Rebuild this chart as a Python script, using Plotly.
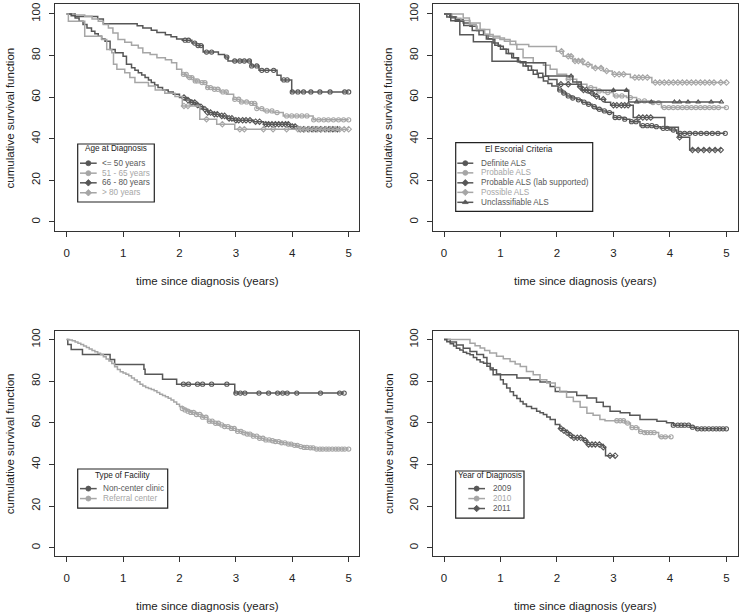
import plotly.graph_objects as go

DARK = "#575757"
LIGHT = "#a6a6a6"
AXC = "#333333"
FONT = "Liberation Sans, Arial, sans-serif"
MSIZE = 4.2

# ---------------- Panel 1: Age at Diagnosis ----------------
age_titles = ["<= 50 years", "51 - 65 years", "66 - 80 years", "> 80 years"]
age_le50_t = [0.15, 0.55, 0.65, 1.25, 1.35, 1.5, 1.6, 1.75, 1.85, 1.95, 2.05, 2.22, 2.3, 2.42, 2.69, 2.8, 2.86, 3.27, 3.41, 3.73, 3.8, 3.99]
age_le50_s = [98.8, 97.6, 95.3, 94.3, 93.3, 92.2, 91.1, 90.0, 89.0, 88.0, 87.4, 86.0, 84.8, 81.7, 80.5, 79.3, 77.4, 75.0, 72.9, 70.5, 68.3, 62.5]
age_le50_c = [2.1, 2.16, 2.27, 2.33, 2.38, 2.48, 2.57, 2.84, 2.98, 3.07, 3.15, 3.24, 3.28, 3.37, 3.46, 3.55, 3.67, 3.85, 3.91, 4.0, 4.1, 4.2, 4.33, 4.49, 4.67, 4.93, 5.0]

age_51_65_t = [0.12, 0.32, 0.45, 0.56, 0.65, 0.74, 0.82, 0.91, 1.03, 1.15, 1.27, 1.35, 1.48, 1.6, 1.75, 1.86, 1.95, 2.04, 2.13, 2.25, 2.36, 2.48, 2.6, 2.72, 2.84, 2.96, 3.07, 3.25, 3.37, 3.49, 3.66, 3.84, 4.37]
age_51_65_s = [99.5, 98.9, 97.6, 96.5, 95.0, 93.3, 90.9, 87.7, 86.4, 85.0, 83.7, 81.3, 80.5, 78.9, 78.0, 76.6, 73.4, 71.0, 69.4, 67.8, 67.0, 64.6, 63.8, 62.5, 61.4, 59.0, 57.7, 57.0, 54.5, 53.4, 52.6, 51.0, 49.1]
age_51_65_c = [2.07, 2.12, 2.18, 2.22, 2.28, 2.32, 2.4, 2.45, 2.5, 2.55, 2.62, 2.68, 2.77, 2.83, 2.98, 3.05, 3.1, 3.19, 3.28, 3.33, 3.37, 3.46, 3.55, 3.64, 3.73, 3.9, 3.99, 4.08, 4.17, 4.26, 4.38, 4.47, 4.56, 4.64, 4.73, 4.82, 4.91, 5.0]

age_66_80_t = [0.08, 0.15, 0.22, 0.29, 0.36, 0.44, 0.5, 0.56, 0.62, 0.68, 0.77, 0.86, 1.0, 1.06, 1.15, 1.21, 1.27, 1.33, 1.39, 1.45, 1.5, 1.56, 1.62, 1.7, 1.8, 1.89, 2.0, 2.1, 2.2, 2.28, 2.36, 2.42, 2.5, 2.6, 2.72, 2.84, 2.96, 3.31, 3.49, 3.96, 4.1]
age_66_80_s = [99.2, 98.1, 96.5, 95.0, 93.3, 91.7, 90.5, 89.3, 88.0, 86.9, 82.9, 81.3, 79.7, 75.8, 74.2, 73.0, 71.8, 70.6, 69.4, 68.2, 67.0, 65.8, 64.6, 63.5, 62.5, 61.4, 59.8, 58.6, 57.4, 56.2, 55.4, 54.2, 52.6, 51.8, 51.0, 49.8, 48.9, 48.2, 47.0, 45.9, 44.6]
age_66_80_c = [2.08, 2.15, 2.22, 2.27, 2.32, 2.38, 2.45, 2.5, 2.55, 2.62, 2.67, 2.75, 2.8, 2.88, 2.93, 3.0, 3.05, 3.12, 3.18, 3.25, 3.35, 3.42, 3.53, 3.58, 3.64, 3.7, 3.76, 3.82, 3.88, 3.93, 4.0, 4.05, 4.14, 4.2, 4.28, 4.35, 4.42, 4.5, 4.58, 4.65, 4.72, 4.8]

age_gt80_t = [0.03, 0.32, 0.62, 0.71, 0.8, 0.83, 0.89, 1.03, 1.12, 1.21, 1.45, 1.57, 1.74, 1.92, 2.05, 2.36, 2.66, 2.98]
age_gt80_s = [96.5, 89.3, 87.7, 82.9, 81.3, 75.8, 73.4, 71.8, 69.4, 67.0, 65.4, 63.5, 61.9, 60.3, 55.8, 49.4, 47.0, 44.6]
age_gt80_c = [2.08, 2.15, 2.48, 2.76, 3.07, 3.15, 3.49, 3.66, 3.9, 4.1, 4.15, 4.22, 4.3, 4.38, 4.45, 4.52, 4.6, 4.68, 4.76, 4.84, 4.92, 5.0]

# ---------------- Panel 2: El Escorial Criteria ----------------
esc_titles = ["Definite ALS", "Probable ALS", "Probable ALS (lab supported)", "Possible ALS", "Unclassifiable ALS"]
esc_def_t = [0.1, 0.22, 0.34, 0.46, 0.58, 0.7, 0.78, 0.87, 0.96, 1.05, 1.14, 1.23, 1.32, 1.4, 1.49, 1.58, 1.67, 1.76, 1.84, 1.91, 2.02, 2.1, 2.17, 2.26, 2.35, 2.44, 2.53, 2.62, 2.7, 2.8, 2.88, 3.0, 3.18, 3.29, 3.47, 3.71, 3.83, 4.0, 4.12]
esc_def_s = [98.6, 97.3, 95.7, 94.1, 92.1, 90.1, 88.1, 86.1, 84.5, 83.0, 81.0, 78.9, 77.0, 75.0, 73.0, 71.0, 69.4, 67.8, 66.6, 65.4, 63.5, 62.0, 60.6, 59.6, 58.7, 57.6, 56.6, 55.4, 54.2, 53.4, 52.6, 50.2, 49.4, 48.2, 46.3, 45.8, 45.0, 44.2, 42.6]
esc_def_c = [2.05, 2.12, 2.2, 2.28, 2.38, 2.48, 2.56, 2.66, 2.75, 2.84, 2.93, 3.03, 3.1, 3.2, 3.32, 3.4, 3.52, 3.6, 3.68, 3.76, 3.88, 3.95, 4.06, 4.18, 4.26, 4.35, 4.45, 4.55, 4.65, 4.75, 4.85, 4.98]

esc_prob_t = [0.14, 0.3, 0.46, 0.64, 0.81, 0.99, 1.17, 1.29, 1.4, 1.58, 1.76, 1.88, 2.0, 2.17, 2.35, 2.53, 2.7, 2.82, 3.0, 3.23, 3.41, 3.65, 3.85]
esc_prob_s = [98.0, 96.9, 95.7, 92.5, 89.3, 87.7, 85.3, 83.0, 78.9, 76.6, 75.3, 73.4, 71.0, 68.6, 66.2, 64.6, 63.0, 62.2, 60.6, 59.8, 58.2, 57.4, 55.0]
esc_prob_c = [2.2, 2.4, 2.6, 2.75, 2.9, 3.05, 3.15, 3.3, 3.45, 3.55, 3.7, 3.8, 3.9, 3.98, 4.06, 4.14, 4.22, 4.3, 4.38, 4.46, 4.54, 4.62, 4.7, 4.78, 4.86, 5.0]

esc_lab_t = [0.05, 0.2, 0.35, 0.5, 0.62, 0.75, 0.9, 1.0, 1.1, 1.2, 1.3, 1.45, 1.55, 1.65, 1.75, 1.85, 2.0, 2.38, 2.45, 2.55, 2.65, 2.75, 2.85, 2.95, 3.35, 3.91, 4.15, 4.35]
esc_lab_s = [98.5, 96.5, 94.5, 92.0, 90.0, 88.0, 85.0, 83.0, 81.0, 79.0, 77.0, 75.0, 73.0, 71.5, 70.0, 68.5, 66.2, 65.0, 63.5, 62.0, 60.5, 59.0, 57.5, 56.1, 50.2, 45.5, 40.7, 34.6]
esc_lab_c = [2.07, 2.2, 2.41, 2.47, 2.52, 2.62, 2.7, 2.82, 3.0, 3.06, 3.14, 3.2, 3.26, 3.45, 3.52, 3.59, 3.66, 4.17, 4.4, 4.5, 4.6, 4.7, 4.8, 4.9]

esc_poss_t = [0.34, 0.45, 0.57, 0.72, 0.87, 1.07, 1.27, 1.5, 1.99, 2.11, 2.28, 2.46, 2.62, 2.82, 2.98, 3.3, 3.68]
esc_poss_s = [98.1, 94.9, 92.5, 90.1, 88.5, 86.9, 85.3, 84.4, 82.1, 79.7, 77.4, 75.7, 74.0, 72.6, 71.0, 69.4, 67.0]
esc_poss_c = [2.08, 2.2, 2.25, 2.32, 2.38, 2.45, 2.55, 2.68, 2.78, 2.88, 3.02, 3.1, 3.18, 3.38, 3.45, 3.52, 3.6, 3.74, 3.82, 3.9, 3.98, 4.06, 4.14, 4.22, 4.3, 4.38, 4.46, 4.54, 4.62, 4.7, 4.78, 4.9, 5.0]

esc_uncl_t = [0.12, 0.28, 0.52, 0.85, 1.35, 1.8, 2.28, 2.43, 3.27]
esc_uncl_s = [96.7, 90.0, 86.7, 77.3, 76.6, 70.2, 67.3, 63.3, 57.7]
esc_uncl_c = [2.25, 3.0, 3.23, 3.41, 3.67, 4.08, 4.17, 4.32, 4.5, 4.73, 4.91]

# ---------------- Panel 3: Type of Facility ----------------
fac_titles = ["Non-center clinic", "Referral center"]
fac_non_t = [0.02, 0.08, 0.28, 0.77, 0.85, 1.37, 1.39, 1.7, 1.95, 2.98]
fac_non_s = [97.6, 95.2, 92.9, 90.5, 88.1, 85.7, 83.3, 81.0, 78.6, 74.3]
fac_non_c = [2.07, 2.16, 2.32, 2.41, 2.57, 2.84, 3.0, 3.08, 3.16, 3.41, 3.58, 3.74, 3.83, 3.91, 4.08, 4.5, 4.84, 4.92]

fac_ref_t = [0.05, 0.1, 0.15, 0.2, 0.25, 0.3, 0.35, 0.4, 0.45, 0.5, 0.55, 0.6, 0.65, 0.7, 0.75, 0.8, 0.85, 0.9, 0.95, 1.0, 1.05, 1.1, 1.15, 1.2, 1.25, 1.3, 1.35, 1.4, 1.45, 1.5, 1.55, 1.6, 1.65, 1.7, 1.75, 1.8, 1.85, 1.9, 1.95, 2.0, 2.05, 2.1, 2.15, 2.2, 2.3, 2.4, 2.5, 2.6, 2.7, 2.8, 2.9, 3.0, 3.1, 3.2, 3.3, 3.4, 3.5, 3.6, 3.7, 3.8, 3.9, 4.0, 4.1, 4.2, 4.3, 4.4]
fac_ref_s = [99.8, 99.4, 98.8, 98.2, 97.6, 96.9, 96.2, 95.5, 94.8, 94.2, 93.5, 92.8, 91.8, 90.7, 89.7, 88.5, 87.0, 85.6, 84.6, 84.0, 83.3, 82.6, 81.6, 80.6, 79.7, 78.6, 77.7, 77.0, 76.5, 76.0, 75.4, 74.6, 73.8, 73.1, 72.5, 71.8, 71.0, 70.0, 68.9, 67.8, 66.9, 66.2, 65.6, 65.0, 64.0, 62.7, 60.8, 59.8, 59.0, 58.2, 57.3, 55.9, 55.2, 54.6, 53.6, 52.6, 51.8, 51.4, 51.0, 50.4, 49.8, 49.2, 48.6, 48.2, 48.0, 47.4]
fac_ref_c = [2.05, 2.1, 2.15, 2.2, 2.25, 2.3, 2.36, 2.41, 2.47, 2.53, 2.58, 2.64, 2.69, 2.75, 2.8, 2.86, 2.92, 2.97, 3.03, 3.09, 3.14, 3.2, 3.25, 3.31, 3.37, 3.42, 3.48, 3.53, 3.59, 3.65, 3.7, 3.76, 3.81, 3.87, 3.93, 3.98, 4.04, 4.09, 4.15, 4.21, 4.26, 4.32, 4.37, 4.43, 4.49, 4.54, 4.6, 4.65, 4.71, 4.77, 4.82, 4.88, 4.93, 5.0]

# ---------------- Panel 4: Year of Diagnosis ----------------
year_titles = ["2009", "2010", "2011"]
y2009_t = [0.11, 0.22, 0.34, 0.46, 0.58, 0.7, 0.76, 0.82, 0.87, 1.29, 1.52, 1.7, 1.88, 1.97, 2.17, 2.35, 2.53, 2.7, 2.82, 2.94, 3.12, 3.29, 3.47, 3.77, 3.94, 4.06, 4.36, 4.47]
y2009_s = [98.8, 97.4, 95.8, 94.3, 92.8, 91.4, 88.5, 85.5, 83.1, 81.5, 80.7, 79.6, 77.5, 75.1, 74.8, 73.2, 71.9, 69.9, 67.9, 65.6, 64.8, 63.6, 61.6, 60.8, 60.0, 58.9, 57.9, 57.1]
y2009_c = [4.06, 4.14, 4.2, 4.26, 4.33, 4.4, 4.49, 4.56, 4.62, 4.69, 4.76, 4.82, 4.88, 4.94, 5.0]

y2010_t = [0.46, 0.55, 0.64, 0.72, 0.81, 0.93, 1.05, 1.17, 1.26, 1.35, 1.46, 1.58, 1.7, 1.82, 1.97, 2.05, 2.17, 2.29, 2.41, 2.53, 2.64, 2.76, 2.85, 3.2, 3.3, 3.45, 3.55, 3.8]
y2010_s = [98.2, 97.0, 96.0, 94.8, 93.6, 92.0, 90.8, 89.5, 88.3, 87.1, 84.7, 83.1, 80.7, 79.1, 77.0, 74.8, 72.3, 70.3, 67.5, 64.6, 63.6, 61.6, 61.0, 59.9, 57.7, 55.8, 55.3, 53.3]
y2010_c = [3.06, 3.12, 3.18, 3.25, 3.33, 3.4, 3.48, 3.55, 3.6, 3.66, 3.72, 3.85, 3.92, 4.02]

y2011_t = [0.05, 0.11, 0.17, 0.22, 0.28, 0.34, 0.4, 0.46, 0.52, 0.58, 0.64, 0.7, 0.76, 0.82, 0.87, 0.93, 1.0, 1.05, 1.11, 1.17, 1.23, 1.29, 1.35, 1.4, 1.46, 1.55, 1.64, 1.7, 1.76, 1.82, 1.88, 1.97, 2.05, 2.1, 2.17, 2.22, 2.26, 2.47, 2.53, 2.82, 2.86]
y2011_s = [99.0, 98.0, 96.9, 95.9, 95.0, 93.9, 93.3, 92.7, 91.4, 90.3, 89.2, 88.7, 87.2, 86.3, 85.5, 83.5, 80.7, 78.7, 76.7, 75.0, 73.2, 71.7, 70.3, 69.0, 67.9, 66.9, 65.6, 64.8, 64.0, 62.8, 61.6, 59.2, 57.3, 56.3, 55.2, 54.0, 52.8, 51.5, 49.6, 48.3, 44.2]
y2011_c = [2.07, 2.12, 2.18, 2.24, 2.3, 2.36, 2.42, 2.5, 2.56, 2.62, 2.68, 2.75, 2.82, 2.94, 3.03]

AX_TITLE_X = "time since diagnosis (years)"
AX_TITLE_Y = "cumulative survival function"


def surv_at(t, s, x):
    v = 100.0
    for ti, si in zip(t, s):
        if ti <= x:
            v = si
    return v


def marker(sym, col):
    return dict(symbol=sym, size=MSIZE, color=col, line=dict(width=1.1, color=col))


fig = go.Figure()

panels = [
    ("", [(age_le50_t, age_le50_s, age_le50_c, DARK, "circle-open"),
          (age_51_65_t, age_51_65_s, age_51_65_c, LIGHT, "circle-open"),
          (age_66_80_t, age_66_80_s, age_66_80_c, DARK, "diamond-open"),
          (age_gt80_t, age_gt80_s, age_gt80_c, LIGHT, "diamond-open")]),
    ("2", [(esc_def_t, esc_def_s, esc_def_c, DARK, "circle-open"),
           (esc_prob_t, esc_prob_s, esc_prob_c, LIGHT, "circle-open"),
           (esc_lab_t, esc_lab_s, esc_lab_c, DARK, "diamond-open"),
           (esc_poss_t, esc_poss_s, esc_poss_c, LIGHT, "diamond-open"),
           (esc_uncl_t, esc_uncl_s, esc_uncl_c, DARK, "triangle-up-open")]),
    ("3", [(fac_non_t, fac_non_s, fac_non_c, DARK, "circle-open"),
           (fac_ref_t, fac_ref_s, fac_ref_c, LIGHT, "circle-open")]),
    ("4", [(y2009_t, y2009_s, y2009_c, DARK, "circle-open"),
           (y2010_t, y2010_s, y2010_c, LIGHT, "circle-open"),
           (y2011_t, y2011_s, y2011_c, DARK, "diamond-open")]),
]

for suf, series in panels:
    xa, ya = "x" + suf, "y" + suf
    for t, s, c, col, sym in series:
        end = max(c[-1], t[-1])
        fig.add_trace(go.Scatter(x=[0] + t + [end], y=[100] + s + [s[-1]], mode="lines",
                                 line=dict(color=col, width=1.5, shape="hv"),
                                 xaxis=xa, yaxis=ya, showlegend=False, hoverinfo="skip"))
        fig.add_trace(go.Scatter(x=c, y=[surv_at(t, s, v) for v in c], mode="markers",
                                 marker=marker(sym, col),
                                 xaxis=xa, yaxis=ya, showlegend=False, hoverinfo="skip"))

# ---------------- Legends (drawn in pixel space on an overlay axis) ----------------
legends = [
    dict(box=(77.7, 141.7, 154.3, 200.0), title="Age at Diagnosis", tx=116.0, ty=146.7,
         rows=[161, 171, 180.7, 190.7], lx=(80, 96.7), textx=100,
         names=age_titles, cols=[DARK, LIGHT, DARK, LIGHT],
         syms=["circle", "circle", "diamond", "diamond"]),
    dict(box=(455.7, 140.3, 592.7, 209.3), title="El Escorial Criteria", tx=519.0, ty=147.7,
         rows=[161, 170.7, 180.7, 190.3, 200.3], lx=(457.3, 473.3), textx=479.3,
         names=esc_titles, cols=[DARK, LIGHT, DARK, LIGHT, DARK],
         syms=["circle", "circle", "diamond", "diamond", "triangle-up"]),
    dict(box=(77.7, 468.3, 167.7, 507.7), title="Type of Facility", tx=123.3, ty=475.3,
         rows=[488, 498], lx=(80, 96.7), textx=101,
         names=fac_titles, cols=[DARK, LIGHT], syms=["circle", "circle"]),
    dict(box=(455.7, 470.3, 524.0, 517.7), title="Year of Diagnosis", tx=489.5, ty=475.3,
         rows=[488, 498, 508], lx=(468.3, 485), textx=490.7,
         names=year_titles, cols=[DARK, LIGHT, DARK],
         syms=["circle", "circle", "diamond"]),
]

shapes = []
annotations = []
for lg in legends:
    x0, y0, x1, y1 = lg["box"]
    shapes.append(dict(type="rect", xref="x5", yref="y5", x0=x0, y0=y0, x1=x1, y1=y1,
                       line=dict(color="#222222", width=1.2), fillcolor="rgba(0,0,0,0)"))
    annotations.append(dict(xref="x5", yref="y5", x=lg["tx"], y=lg["ty"], text=lg["title"],
                            showarrow=False, xanchor="center", yanchor="middle",
                            font=dict(family=FONT, size=8.2, color="#222222")))
    for ry, nm, col, sym in zip(lg["rows"], lg["names"], lg["cols"], lg["syms"]):
        lx0, lx1 = lg["lx"]
        fig.add_trace(go.Scatter(x=[lx0, lx1], y=[ry, ry], mode="lines",
                                 line=dict(color=col, width=1.5), xaxis="x5", yaxis="y5",
                                 showlegend=False, hoverinfo="skip"))
        fig.add_trace(go.Scatter(x=[(lx0 + lx1) / 2], y=[ry], mode="markers",
                                 marker=dict(symbol=sym, size=5, color=col, line=dict(width=0.8, color=col)),
                                 xaxis="x5", yaxis="y5", showlegend=False, hoverinfo="skip"))
        annotations.append(dict(xref="x5", yref="y5", x=lg["textx"], y=ry, text=nm,
                                showarrow=False, xanchor="left", yanchor="middle",
                                font=dict(family=FONT, size=8.2, color=col)))

# ---------------- Axis titles ----------------
W, H = 740, 614
title_pos = [
    (207.7, 279, AX_TITLE_X, 0), (585.2, 279, AX_TITLE_X, 0),
    (207.7, 606, AX_TITLE_X, 0), (585.2, 606, AX_TITLE_X, 0),
    (9.5, 115.5, AX_TITLE_Y, -90), (388.3, 115.5, AX_TITLE_Y, -90),
    (9.5, 442.8, AX_TITLE_Y, -90), (388.3, 442.8, AX_TITLE_Y, -90),
]
for px, py, txt, ang in title_pos:
    annotations.append(dict(xref="x5", yref="y5", x=px, y=py, text=txt, showarrow=False,
                            xanchor="center", yanchor="middle", textangle=ang,
                            font=dict(family=FONT, size=11.5, color="#222222")))


def xax(dom, rng):
    return dict(domain=dom, range=rng, tickvals=[0, 1, 2, 3, 4, 5], ticks="outside", ticklen=5,
                tickcolor=AXC, showline=True, linecolor=AXC, linewidth=1, mirror=True,
                showgrid=False, zeroline=False, tickfont=dict(family=FONT, size=11.5, color="#222222"),
                ticklabelstandoff=6, fixedrange=True)


def yax(dom, rng):
    return dict(domain=dom, range=rng, tickvals=[0, 20, 40, 60, 80, 100], ticks="outside", ticklen=5,
                tickcolor=AXC, showline=True, linecolor=AXC, linewidth=1, mirror=True,
                showgrid=False, zeroline=False, tickangle=-90,
                tickfont=dict(family=FONT, size=11.5, color="#222222"), ticklabelstandoff=4,
                fixedrange=True)


xl = [55 / W, 359 / W]
xr = [432.7 / W, 737.7 / W]
yt = [1 - 229 / H, 1 - 1 / H]
yb = [1 - 555.7 / H, 1 - 329.7 / H]
rx_l = [-0.207, 5.183]
rx_r = [-0.2, 5.2]
ry_t = [-4.3, 104.8]
ry_b = [-4.0, 104.1]

fig.update_layout(
    width=W, height=H, margin=dict(l=0, r=0, t=0, b=0),
    paper_bgcolor="white", plot_bgcolor="rgba(0,0,0,0)", showlegend=False,
    font=dict(family=FONT),
    xaxis=dict(xax(xl, rx_l), anchor="y"), yaxis=dict(yax(yt, ry_t), anchor="x"),
    xaxis2=dict(xax(xr, rx_r), anchor="y2"), yaxis2=dict(yax(yt, ry_t), anchor="x2"),
    xaxis3=dict(xax(xl, rx_l), anchor="y3"), yaxis3=dict(yax(yb, ry_b), anchor="x3"),
    xaxis4=dict(xax(xr, rx_r), anchor="y4"), yaxis4=dict(yax(yb, ry_b), anchor="x4"),
    xaxis5=dict(domain=[0, 1], range=[0, W], visible=False, anchor="y5", fixedrange=True),
    yaxis5=dict(domain=[0, 1], range=[H, 0], visible=False, anchor="x5", fixedrange=True),
    shapes=shapes, annotations=annotations,
)

fig.write_html("out.html", config={"displayModeBar": False},
               post_script="document.body.style.margin='0';document.body.style.overflow='hidden';")
